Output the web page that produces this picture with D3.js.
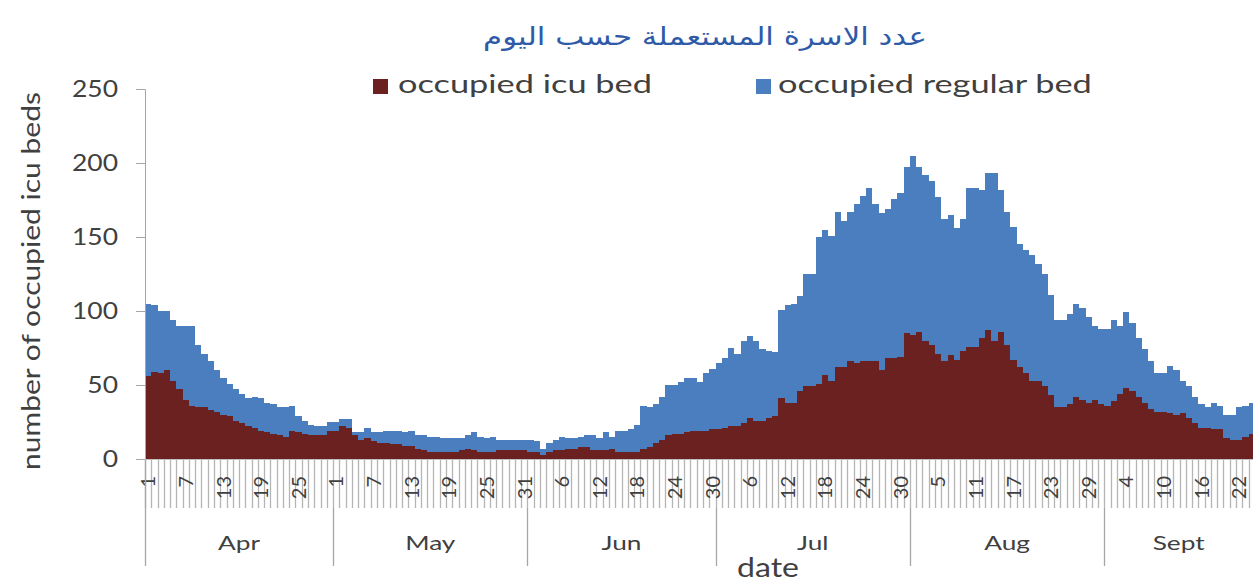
<!DOCTYPE html>
<html><head><meta charset="utf-8">
<script src="https://cdn.jsdelivr.net/npm/d3@7"></script>
<style>body{margin:0;background:#fff}svg{display:block}</style>
</head><body>
<svg id="c" width="1253" height="584"></svg>
<script>
const chartTitle = "عدد الاسرة المستعملة حسب اليوم";
const seriesNames = ["occupied icu bed", "occupied regular bed"];
const months = ["Apr", "May", "Jun", "Jul", "Aug", "Sept"];
const monthDays = [30, 31, 30, 31, 31, 24];
const yTicks = [0, 50, 100, 150, 200, 250];
const yTitle = "number of occupied icu beds";
const xTitle = "date";

const icuBeds = [
  56,59,58,60,53,47,40,36,35,35,33,32,30,29,26,24,22,21,19,18,17,16,15,19,18,17,16,16,16,19,
  19,22,21,16,13,14,12,11,11,10,10,9,9,7,6,5,5,5,5,5,6,7,6,5,5,5,6,6,6,6,6,
  5,5,3,5,6,6,7,7,8,8,6,6,6,7,5,5,5,5,7,8,11,13,16,17,17,18,19,19,19,20,
  20,21,22,22,24,28,26,26,28,29,41,38,38,46,49,49,51,57,53,62,62,66,65,66,66,66,60,68,68,69,85,
  84,86,80,77,71,66,70,67,73,76,76,82,87,80,86,77,67,62,58,53,53,49,43,35,35,37,42,40,38,40,37,
  36,39,44,48,46,42,38,34,32,32,31,30,31,28,24,21,21,20,20,14,13,13,15,17
];
const regularBeds = [
  49,45,42,40,41,43,50,54,42,36,33,28,25,22,21,20,19,21,22,20,20,19,20,17,11,9,7,6,6,6,
  6,5,6,2,5,7,6,7,8,9,9,9,10,9,10,10,10,9,9,9,8,9,12,10,9,10,7,7,7,7,7,
  8,7,4,6,7,9,7,7,7,8,10,8,12,8,14,14,15,18,29,27,26,29,34,33,35,37,36,33,39,41,
  45,47,53,49,56,55,54,48,45,43,60,66,67,64,76,76,99,98,98,105,99,101,107,112,117,106,106,101,108,111,112,
  121,111,112,111,106,96,95,89,89,107,107,100,106,113,96,90,90,83,83,85,79,76,68,59,59,61,63,62,58,50,51,
  52,55,46,51,46,40,36,32,26,26,32,30,22,21,18,16,14,18,16,16,17,22,21,21
];

const colors = ["#6B2120", "#4A7EBF"];
const textColor = "#404040";
const FONT = "Lato, 'Open Sans', sans-serif";

// categories
const cats = [];
months.forEach((m, mi) => { for (let d = 1; d <= monthDays[mi]; d++) cats.push({ m, mi, d }); });

const svg = d3.select("#c");
const left = 145, bandW = 6.27;
const x = d3.scaleBand().domain(d3.range(cats.length)).range([left, left + cats.length * bandW]).padding(0);
const y = d3.scaleLinear().domain([0, 250]).range([459, 89]);
const edge = i => Math.round(x.range()[0] + i * x.step());

const rows = cats.map((c, i) => ({ i, icu: icuBeds[i], reg: regularBeds[i] }));
const stacked = d3.stack().keys(["icu", "reg"])(rows);

const gBars = svg.append("g").attr("shape-rendering", "crispEdges");
stacked.forEach((layer, li) => {
  gBars.append("g").attr("fill", colors[li]).selectAll("rect").data(layer).join("rect")
    .attr("x", (d, i) => edge(i))
    .attr("width", (d, i) => edge(i + 1) - edge(i))
    .attr("y", d => y(d[1]))
    .attr("height", d => y(d[0]) - y(d[1]));
});

// y axis
const yAxis = d3.axisLeft(y).tickValues(yTicks).tickSize(9).tickPadding(18);
const gy = svg.append("g").attr("transform", `translate(${left},0)`).call(yAxis);
gy.select(".domain").attr("stroke", "#a6a6a6");
gy.selectAll(".tick line").attr("stroke", "#a6a6a6");
gy.selectAll(".tick text").attr("fill", textColor).attr("font-family", FONT).attr("font-size", 23);
(function () {
  const t250 = gy.selectAll(".tick text").filter(d => d === 250).node();
  const s = 46 / t250.getComputedTextLength();
  gy.selectAll(".tick text").each(function () {
    const el = d3.select(this);
    const xx = +el.attr("x");
    el.attr("x", 0).attr("transform", `translate(${xx},0) scale(${s},1)`);
  });
})();

// x axis: day ticks
const xEnd = left + cats.length * bandW;
const gx = svg.append("g");
gx.append("line").attr("x1", left).attr("x2", xEnd).attr("y1", 459.5).attr("y2", 459.5).attr("stroke", "#bfbfbf");
gx.selectAll("line.day").data(d3.range(cats.length + 1)).join("line").attr("class", "day")
  .attr("x1", i => edge(i) + 0.5).attr("x2", i => edge(i) + 0.5)
  .attr("y1", 460).attr("y2", 508).attr("stroke", "#b5b5b5").attr("stroke-width", 1.3);

// day labels every 6 days
gx.selectAll("text.day").data(cats.map((c, i) => ({ c, i })).filter(d => d.i % 6 === 0))
  .join("text").attr("class", "day")
  .attr("transform", d => `translate(${x(d.i) + x.bandwidth() / 2},476) rotate(-90)`)
  .attr("text-anchor", "end").attr("dy", "0.36em")
  .attr("font-family", FONT).attr("font-size", 20).attr("fill", textColor)
  .text(d => d.c.d);

// month separators and labels
const monthStart = [];
let acc = 0;
monthDays.forEach(n => { monthStart.push(acc); acc += n; });
gx.selectAll("line.mon").data(monthStart).join("line").attr("class", "mon")
  .attr("x1", i => edge(i) + 0.5).attr("x2", i => edge(i) + 0.5)
  .attr("y1", (i, k) => k === 0 ? 460 : 508).attr("y2", 566).attr("stroke", "#a6a6a6").attr("stroke-width", 1.3);

const monLbl = gx.selectAll("text.mon").data(months).join("text").attr("class", "mon")
  .attr("font-family", FONT).attr("font-size", 20).attr("fill", textColor)
  .attr("text-anchor", "middle").text(d => d);
(function () {
  const s = 42 / monLbl.filter(d => d === "Apr").node().getComputedTextLength();
  monLbl.attr("transform", (d, k) => {
    const a = left + monthStart[k] * bandW;
    const b = Math.min(left + (monthStart[k] + monthDays[k]) * bandW, 1253);
    return `translate(${(a + b) / 2},550) scale(${s},1)`;
  });
})();

// axis titles
const xt = svg.append("text").attr("font-family", FONT).attr("font-size", 26).attr("fill", textColor)
  .attr("text-anchor", "middle").text(xTitle);
xt.attr("transform", `translate(768,577) scale(${62 / xt.node().getComputedTextLength()},1)`);

const yt = svg.append("text").attr("font-family", FONT).attr("font-size", 25).attr("fill", textColor)
  .attr("text-anchor", "middle").text(yTitle);
yt.attr("transform", `translate(40,281) rotate(-90) scale(${378 / yt.node().getComputedTextLength()},1)`);

// title
const tt = svg.append("text").attr("font-family", "'DejaVu Sans', sans-serif").attr("font-size", 25)
  .attr("fill", "#2E5AA8").attr("text-anchor", "middle").attr("direction", "rtl").text(chartTitle);
tt.attr("transform", `translate(705,45) scale(${444 / tt.node().getComputedTextLength()},1)`);

// legend
const legendPos = [{ sx: 373, tx: 398, w: 254 }, { sx: 756, tx: 778, w: 314 }];
seriesNames.forEach((name, k) => {
  const p = legendPos[k];
  svg.append("rect").attr("x", p.sx).attr("y", 79).attr("width", 15).attr("height", 15).attr("fill", colors[k]);
  const t = svg.append("text").attr("font-family", FONT).attr("font-size", 25).attr("fill", textColor).text(name);
  t.attr("transform", `translate(${p.tx},93) scale(${p.w / t.node().getComputedTextLength()},1)`);
});
</script>
</body></html>
